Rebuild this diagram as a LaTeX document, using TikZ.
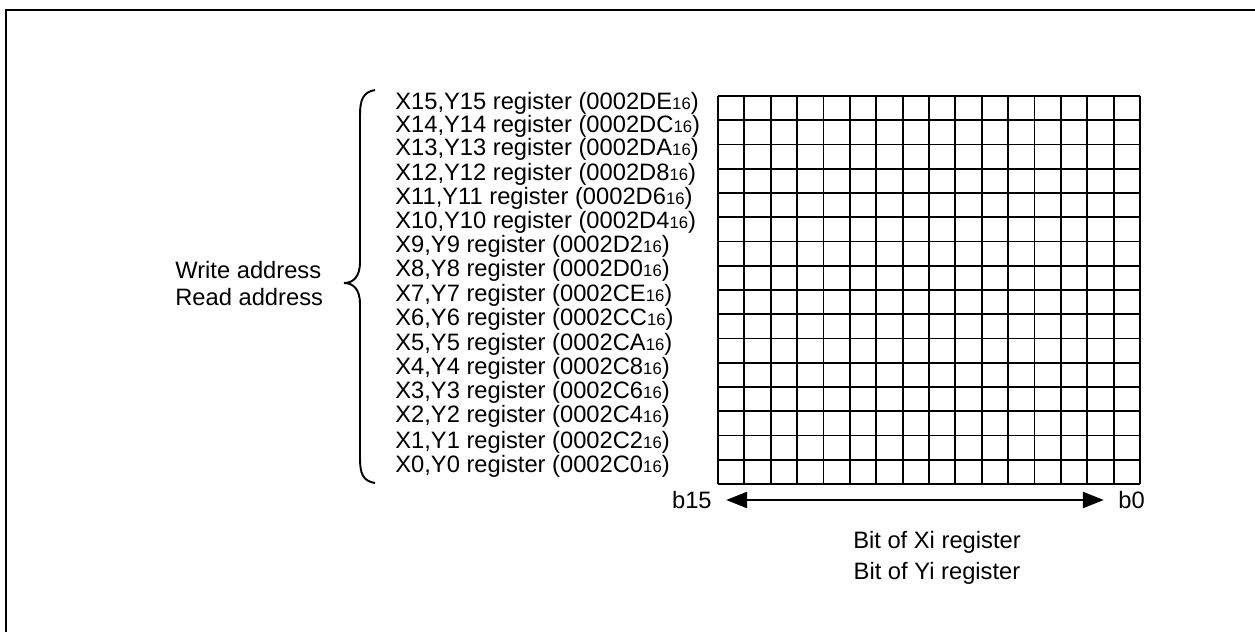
\documentclass[tikz,border=0pt]{standalone}
\usepackage{fontspec}
\setmainfont{Liberation Sans}
\usetikzlibrary{arrows.meta, positioning}

\newcommand{\hexsub}{{\fontsize{9.5}{10}\selectfont 16}}
\tikzset{
  lbl/.style={font=\fontsize{13.5}{16}\selectfont, inner sep=0pt},
  reglbl/.style={lbl, anchor=west},
  cellline/.style={line width=1.1pt},
  bitarrow/.style={{Triangle[length=12pt,width=9pt]}-{Triangle[length=12pt,width=9pt]},
                   line width=1.7pt, shorten <=8pt, shorten >=8pt},
}

\begin{document}
\begin{tikzpicture}[x=0.02cm, y=-0.02cm]
  \useasboundingbox (0,0) rectangle (1255,632);
  % outer frame (cut off at right and bottom)
  \draw[line width=1.5pt] (6,632) -- (6,10) -- (1255,10);

  % register cells
  \foreach \i in {0,...,16} {
    \draw[cellline] ({718+\i*26.375},96) -- ({718+\i*26.375},484);
    \draw[cellline] (718,{96+\i*24.25}) -- (1140,{96+\i*24.25});
  }

  % register names
  \foreach \n/\a/\y in {15/DE/103, 14/DC/126, 13/DA/149, 12/D8/174,
                        11/D6/198, 10/D4/222, 9/D2/246, 8/D0/270,
                        7/CE/295, 6/CC/319, 5/CA/344, 4/C8/368,
                        3/C6/392, 2/C4/416, 1/C2/442, 0/C0/466}
    \node[reglbl] (reg\n) at (395,\y) {X\n,Y\n\ register (0002\a\hexsub)};

  % brace
  \draw[line width=1.1pt] (375,90) .. controls (363,92) and (360,100) .. (360,115)
    -- (360,262) .. controls (360,277) and (353,283) .. (344,283)
    .. controls (353,283) and (360,289) .. (360,304)
    -- (360,458) .. controls (360,474) and (363,481) .. (375,483);

  \node[reglbl] (wraddr) at (175,270) {Write address};
  \node[reglbl] (rdaddr) at (175,297) {Read address};

  % bit numbering
  \node[lbl, anchor=east] (b15) at (712,500) {b15};
  \node[lbl, anchor=west] (b0) at (1118,500) {b0};
  \draw[bitarrow] (b15) -- (b0);

  \node[lbl] (bitx) at (937,542) {Bit of Xi register};
  \node[lbl] (bity) at (937,573) {Bit of Yi register};
\end{tikzpicture}
\end{document}
